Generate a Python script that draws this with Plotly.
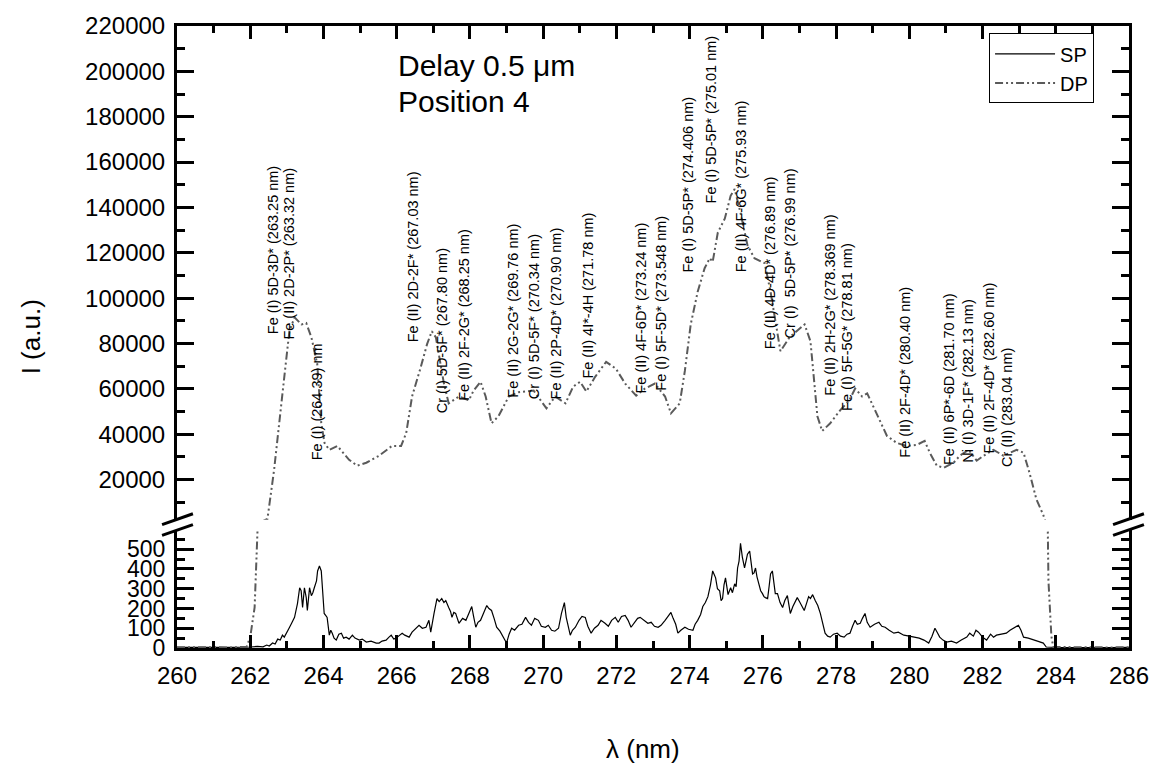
import plotly.graph_objects as go

# ---------------- data ----------------
# SP spectrum: (wavelength nm, intensity a.u.)
sp_data = [
    (260.0, 3), (260.5, 2), (261.0, 4), (261.5, 3), (262.0, 5), (262.2, 8), (262.35, 6), (262.45, 15),
    (262.52, 10), (262.61, 25), (262.68, 20), (262.75, 45), (262.82, 40), (262.88, 65), (262.93, 55),
    (262.99, 80), (263.06, 100), (263.13, 125), (263.21, 155), (263.29, 225), (263.35, 305), (263.39, 290),
    (263.43, 205), (263.48, 305), (263.53, 255), (263.56, 190), (263.62, 305), (263.67, 265), (263.71, 280),
    (263.75, 305), (263.81, 340), (263.84, 390), (263.89, 415), (263.94, 390), (263.97, 290), (264.02, 175),
    (264.06, 165), (264.10, 155), (264.16, 65), (264.20, 90), (264.24, 75), (264.29, 50), (264.35, 40),
    (264.42, 70), (264.49, 75), (264.55, 50), (264.62, 55), (264.70, 45), (264.79, 65), (264.86, 50),
    (264.98, 40), (265.06, 45), (265.17, 30), (265.30, 35), (265.44, 25), (265.52, 25), (265.60, 35),
    (265.71, 40), (265.79, 55), (265.85, 65), (265.92, 45), (265.98, 50), (266.05, 60), (266.15, 75),
    (266.22, 65), (266.34, 55), (266.42, 80), (266.50, 95), (266.61, 115), (266.70, 100), (266.80, 105),
    (266.88, 140), (266.93, 80), (267.02, 175), (267.10, 250), (267.16, 235), (267.23, 250), (267.29, 230),
    (267.34, 240), (267.42, 205), (267.47, 185), (267.51, 155), (267.56, 180), (267.61, 175), (267.66, 140),
    (267.70, 125), (267.80, 150), (267.89, 140), (267.97, 175), (268.05, 210), (268.10, 160), (268.16, 105),
    (268.22, 130), (268.29, 140), (268.38, 180), (268.46, 215), (268.52, 200), (268.59, 190), (268.66, 150),
    (268.73, 105), (268.82, 85), (268.92, 55), (269.00, 25), (269.07, 70), (269.14, 100), (269.22, 90),
    (269.33, 115), (269.42, 120), (269.52, 155), (269.60, 130), (269.68, 115), (269.77, 150), (269.87, 140),
    (269.95, 110), (270.06, 105), (270.14, 115), (270.23, 90), (270.32, 85), (270.42, 100), (270.50, 175),
    (270.58, 230), (270.63, 155), (270.68, 120), (270.74, 65), (270.80, 90), (270.88, 105), (270.98, 140),
    (271.06, 160), (271.15, 155), (271.22, 110), (271.31, 75), (271.40, 100), (271.50, 115), (271.58, 140),
    (271.69, 125), (271.78, 110), (271.87, 140), (271.97, 155), (272.05, 130), (272.14, 160), (272.24, 165),
    (272.32, 140), (272.40, 105), (272.50, 130), (272.58, 150), (272.65, 155), (272.75, 140), (272.86, 125),
    (272.95, 130), (273.04, 110), (273.14, 105), (273.22, 115), (273.33, 140), (273.42, 165), (273.49, 180),
    (273.55, 150), (273.62, 120), (273.68, 75), (273.76, 90), (273.87, 105), (273.97, 95), (274.09, 90),
    (274.15, 120), (274.22, 140), (274.30, 170), (274.36, 210), (274.43, 230), (274.50, 260), (274.57, 320),
    (274.63, 390), (274.67, 370), (274.71, 355), (274.76, 300), (274.82, 290), (274.86, 240), (274.90, 250),
    (274.94, 320), (274.98, 355), (275.05, 270), (275.12, 305), (275.17, 280), (275.23, 325), (275.27, 310),
    (275.31, 405), (275.35, 440), (275.39, 530), (275.44, 460), (275.50, 405), (275.54, 440), (275.58, 475),
    (275.64, 490), (275.68, 420), (275.72, 375), (275.76, 380), (275.80, 405), (275.84, 360), (275.88, 330),
    (275.94, 290), (275.99, 275), (276.03, 260), (276.07, 255), (276.13, 250), (276.17, 310), (276.21, 375),
    (276.26, 390), (276.30, 330), (276.34, 275), (276.40, 275), (276.47, 230), (276.54, 205), (276.60, 240),
    (276.67, 265), (276.71, 220), (276.75, 175), (276.82, 210), (276.88, 230), (276.94, 255), (277.00, 235),
    (277.07, 210), (277.13, 190), (277.20, 230), (277.25, 260), (277.30, 250), (277.36, 270), (277.43, 240),
    (277.50, 215), (277.57, 175), (277.63, 120), (277.70, 75), (277.77, 60), (277.84, 55), (277.93, 70),
    (278.03, 75), (278.12, 60), (278.22, 55), (278.30, 70), (278.38, 75), (278.45, 110), (278.52, 140),
    (278.58, 120), (278.66, 125), (278.72, 150), (278.79, 175), (278.85, 130), (278.93, 105), (279.05, 120),
    (279.17, 130), (279.25, 110), (279.34, 105), (279.45, 90), (279.58, 75), (279.70, 80), (279.85, 65),
    (280.00, 60), (280.13, 55), (280.27, 50), (280.40, 40), (280.53, 25), (280.62, 60), (280.70, 100),
    (280.76, 80), (280.83, 55), (280.92, 40), (281.02, 30), (281.15, 35), (281.29, 25), (281.42, 40),
    (281.57, 55), (281.65, 75), (281.75, 60), (281.82, 90), (281.89, 80), (282.00, 55), (282.11, 40),
    (282.22, 70), (282.30, 55), (282.38, 65), (282.50, 70), (282.65, 75), (282.75, 90), (282.87, 105),
    (282.98, 115), (283.05, 90), (283.12, 55), (283.25, 50), (283.39, 40), (283.50, 35), (283.66, 25),
    (283.74, 5), (284.0, 3), (284.5, 2), (285.0, 4), (285.5, 2), (286.0, 3),
]
sp_wl = [p[0] for p in sp_data]
sp_val = [p[1] for p in sp_data]

dp_wl = [260.0, 260.5, 261.0, 261.5, 261.9, 262.0, 262.12, 262.2, 262.33, 262.47, 262.65, 262.80, 262.99,
         263.07, 263.21, 263.40, 263.53, 263.67, 263.83, 263.94, 264.03, 264.16, 264.38, 264.70, 264.92,
         265.17, 265.52, 265.87, 266.12, 266.26, 266.42, 266.66, 266.83, 266.96, 267.07, 267.29, 267.42,
         267.70, 267.97, 268.10, 268.29, 268.43, 268.59, 268.78, 269.06, 269.33, 269.74, 270.09, 270.33,
         270.61, 270.82, 271.01, 271.18, 271.42, 271.72, 271.99, 272.24, 272.54, 272.78, 273.05, 273.33,
         273.49, 273.73, 273.87, 274.03, 274.22, 274.41, 274.55, 274.63, 274.77, 274.96, 275.12, 275.23,
         275.39, 275.58, 275.77, 276.05, 276.21, 276.40, 276.48, 276.73, 276.94, 277.14, 277.30, 277.41,
         277.49, 277.62, 277.84, 278.11, 278.36, 278.52, 278.71, 278.85, 279.06, 279.39, 279.66, 279.93,
         280.21, 280.42, 280.56, 280.75, 280.94, 281.21, 281.38, 281.62, 281.84, 282.03, 282.30, 282.57,
         282.93, 283.12, 283.28, 283.47, 283.66, 283.72, 283.80, 283.88, 283.93, 284.5, 285.0, 285.5, 286.0]
dp_val = [4, 3, 5, 3, 6, 55, 205, 600, 1400, 2600, 24000, 44800, 74000,
          85400, 91500, 88400, 89000, 82700, 71000, 44800, 36100, 33100, 34800, 28700, 26100,
          27400, 30500, 34800, 34800, 40500, 56600, 69700, 79700, 85400, 82700, 62300, 53600,
          56600, 54900, 59200, 63100, 56600, 44800, 47900, 56600, 58500, 59200, 51400, 56600,
          53600, 61000, 63100, 58800, 65300, 71900, 68800, 62300, 57000, 60100, 62300, 56600,
          49200, 53600, 67900, 88400, 102800, 113200, 117600, 116000, 128900, 135000, 145100, 148100,
          137600, 123300, 117600, 115400, 102800, 84100, 76600, 82700, 85400, 88400, 81000, 62300,
          47900, 41400, 44800, 50500, 54900, 60100, 56600, 58000, 50500, 39200, 36100, 34800,
          35300, 37000, 31800, 26100, 25200, 27400, 30500, 33100, 28300, 30500, 33100, 30500,
          33100, 31800, 23100, 11300, 4300, 1500, 340, 60, 5, 3, 4, 3, 4]

label_text = ["Fe (I) 5D-3D* (263.25 nm)", "Fe (II) 2D-2P* (263.32 nm)", "Fe (I) (264.39) nm",
              "Fe (II) 2D-2F* (267.03 nm)", "Cr (I) 5D-5F* (267.80 nm)", "Fe (II) 2F-2G* (268.25 nm)",
              "Fe (II) 2G-2G* (269.76 nm)", "Cr (I) 5D-5F* (270.34 nm)", "Fe (II) 2P-4D* (270.90 nm)",
              "Fe (II) 4I*-4H (271.78 nm)", "Fe (II) 4F-6D* (273.24 nm)", "Fe (I) 5F-5D* (273.548 nm)",
              "Fe (I) 5D-5P* (274.406 nm)", "Fe (I) 5D-5P* (275.01 nm)", "Fe (II) 4F-6G* (275.93 nm)",
              "Fe (II) 4D-4D* (276.89 nm)", "Cr (I)  5D-5P* (276.99 nm)", "Fe (II) 2H-2G* (278.369 nm)",
              "Fe (I) 5F-5G* (278.81 nm)", "Fe (II) 2F-4D* (280.40 nm)", "Fe (II) 6P*-6D (281.70 nm)",
              "Ni (I) 3D-1F* (282.13 nm)", "Fe (II) 2F-4D* (282.60 nm)", "Cr (II) (283.04 nm)"]
label_wl = [262.61, 263.07, 263.81, 266.47, 267.26, 267.83, 269.19, 269.74, 270.36, 271.23, 272.67, 273.22,
            273.95, 274.58, 275.39, 276.18, 276.73, 277.81, 278.30, 279.88, 281.08, 281.62, 282.17, 282.65]
label_base = [83000, 81000, 27600, 79800, 48500, 53700, 55000, 54600, 54600, 63700, 57200, 58100,
              110300, 140800, 110300, 76800, 81150, 55900, 49400, 28900, 25400, 26300, 30700, 24600]

x_ticks = list(range(260, 287, 2))
y_low_ticks = [0, 100, 200, 300, 400, 500]
y_up_ticks = list(range(20000, 220001, 20000))

# ---------------- figure ----------------
FONT = "Liberation Sans, Arial, sans-serif"
DP_LINE = dict(color="#5a5a5a", width=2, dash="8px,3px,2px,3px,2px,3px")
fig = go.Figure()

fig.add_trace(go.Scatter(x=sp_wl, y=sp_val, mode="lines", name="SP",
                         line=dict(color="black", width=1.2), xaxis="x", yaxis="y"))
fig.add_trace(go.Scatter(x=dp_wl, y=dp_val, mode="lines", name="DP", line=DP_LINE,
                         xaxis="x", yaxis="y"))
fig.add_trace(go.Scatter(x=dp_wl, y=dp_val, mode="lines", name="DP", showlegend=False, line=DP_LINE,
                         xaxis="x2", yaxis="y2"))

axis_common = dict(showline=True, linecolor="black", linewidth=3, ticks="inside",
                   tickcolor="black", tickwidth=3, showgrid=False, zeroline=False,
                   tickfont=dict(family=FONT, size=24, color="black"))
minor_x = dict(dtick=1, tick0=260, ticklen=7, tickwidth=3, ticks="inside", tickcolor="black")

fig.update_layout(
    width=1161, height=771,
    margin=dict(l=177, r=28, t=18, b=123),
    paper_bgcolor="white", plot_bgcolor="white",
    showlegend=True,
    xaxis=dict(axis_common, domain=[0, 1], anchor="y", range=[260, 286],
               tickvals=x_ticks, ticktext=[str(v) for v in x_ticks], ticklen=13, mirror=False,
               minor=minor_x, ticklabelstandoff=4),
    xaxis2=dict(axis_common, domain=[0, 1], anchor="y2", matches="x", range=[260, 286],
                side="top", tickvals=x_ticks, ticklen=13, showticklabels=False, minor=minor_x),
    yaxis=dict(axis_common, domain=[0, 0.189], anchor="x", range=[0, 595],
               tickvals=y_low_ticks, ticktext=[str(v) for v in y_low_ticks], ticklen=17, mirror="ticks",
               tickfont=dict(family=FONT, size=23, color="black"),
               minor=dict(dtick=50, tick0=0, ticklen=8, tickwidth=3, ticks="inside", tickcolor="black"),
               ticklabelstandoff=4),
    yaxis2=dict(axis_common, domain=[0.206, 1], anchor="x2", range=[2200, 220000],
                tickvals=y_up_ticks, ticktext=[str(v) for v in y_up_ticks], ticklen=17, mirror="ticks",
                minor=dict(dtick=10000, tick0=0, ticklen=8, tickwidth=3, ticks="inside", tickcolor="black"),
                ticklabelstandoff=4),
    legend=dict(x=0.853, y=0.988, xanchor="left", yanchor="top", bgcolor="white",
                bordercolor="black", borderwidth=1, font=dict(family=FONT, size=20, color="black"),
                itemwidth=60, tracegroupgap=0),
)

annotations = []
for t, xw, yb in zip(label_text, label_wl, label_base):
    annotations.append(dict(x=xw, y=yb, xref="x2", yref="y2", text=t, showarrow=False,
                            textangle=-90, xanchor="center", yanchor="bottom",
                            font=dict(family=FONT, size=14.5, color="black")))

annotations += [
    dict(x=0.230, y=0.9365, xref="paper", yref="paper", text="Delay 0.5 μm", showarrow=False,
         xanchor="left", yanchor="middle", font=dict(family=FONT, size=30, color="black")),
    dict(x=0.230, y=0.879, xref="paper", yref="paper", text="Position 4", showarrow=False,
         xanchor="left", yanchor="middle", font=dict(family=FONT, size=30, color="black")),
    dict(x=-0.153, y=0.5, xref="paper", yref="paper", text="I (a.u.)", showarrow=False,
         textangle=-90, xanchor="center", yanchor="middle", font=dict(family=FONT, size=26, color="black")),
    dict(x=0.49, y=-0.162, xref="paper", yref="paper", text="λ (nm)", showarrow=False,
         xanchor="center", yanchor="middle", font=dict(family=FONT, size=26, color="black")),
]
fig.update_layout(annotations=annotations)

# axis-break marks (paper coordinates)
def px_x(p):
    return (p - 177) / 956.0

def px_y(p):
    return (648 - p) / 630.0

shapes = []
for x0, x1 in [(162, 193), (1117, 1148)]:
    for ya, yb in [(523, 512), (534, 523)]:
        shapes.append(dict(type="line", xref="paper", yref="paper",
                           x0=px_x(x0), x1=px_x(x1), y0=px_y(ya), y1=px_y(yb),
                           line=dict(color="black", width=3)))
fig.update_layout(shapes=shapes)

fig.write_html("out.html")
